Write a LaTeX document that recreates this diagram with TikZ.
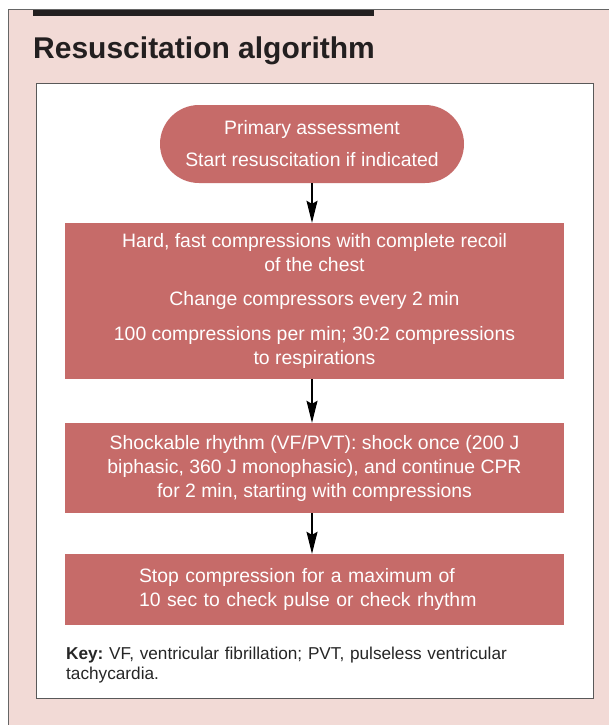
\documentclass[tikz,border=0pt]{standalone}
\usepackage{fontspec}
\setmainfont{Liberation Sans}
\usetikzlibrary{arrows.meta}
\definecolor{panel}{RGB}{242,218,214}
\definecolor{boxred}{RGB}{198,107,105}
\definecolor{bardark}{RGB}{35,31,32}
\frenchspacing
\begin{document}
\begin{tikzpicture}[x=1pt,y=-1pt,
  box/.style={fill=boxred,text=white,inner sep=0pt,minimum width=499pt,align=center,font=\fontsize{19.4}{24}\selectfont},
  arr/.style={line width=1.2pt,-{Stealth[length=22pt,width=11pt,inset=3pt]}}]
\pgfmathsetmacro{\xm}{314.5}
\useasboundingbox (0,0) rectangle (609,725);
%panel
\fill[panel] (8,10) rectangle (609,725);
\draw[gray!80!black,line width=1pt] (8,725)--(8,10)--(609,10);
\fill[bardark] (33,10) rectangle (374,16);
\node[anchor=base west,inner sep=0pt,text=bardark,font=\fontsize{30}{33}\selectfont\bfseries] (title) at (33,59) {Resuscitation algorithm};
\draw[fill=white,draw=gray!70!black,line width=1pt] (36,83) rectangle (593,698);
%boxes
\node[box,minimum width=304pt,minimum height=78pt,rounded corners=39pt] (prim) at (312,144) {Primary assessment\\[8pt]Start resuscitation if indicated};
\node[box,minimum height=156pt] (comp) at (\xm,301) {Hard, fast compressions with complete recoil\\of the chest\\[10pt]Change compressors every 2 min\\[11pt]100 compressions per min; 30:2 compressions\\to respirations};
\node[box,minimum height=90pt] (shock) at (\xm,468) {Shockable rhythm (VF/PVT): shock once (200 J\\biphasic, 360 J monophasic), and continue CPR\\for 2 min, starting with compressions};
\node[box,minimum height=71pt,align=left,text width=351pt,inner xsep=74pt] (stop) at (\xm,589.5) {Stop compression for a maximum of\\10 sec to check pulse or check rhythm};
\node[anchor=north west,inner sep=0pt,align=left,text width=480pt,text=black!85,font=\fontsize{17.2}{20}\selectfont] (key) at (66,647) {\textbf{Key:} VF, ventricular fibrillation; PVT, pulseless ventricular\\tachycardia.};
%arrows
\draw[arr] (prim.south) -- (prim.south |- comp.north);
\draw[arr] (prim.south |- comp.south) -- (prim.south |- shock.north);
\draw[arr] (prim.south |- shock.south) -- (prim.south |- stop.north);
\end{tikzpicture}
\end{document}
